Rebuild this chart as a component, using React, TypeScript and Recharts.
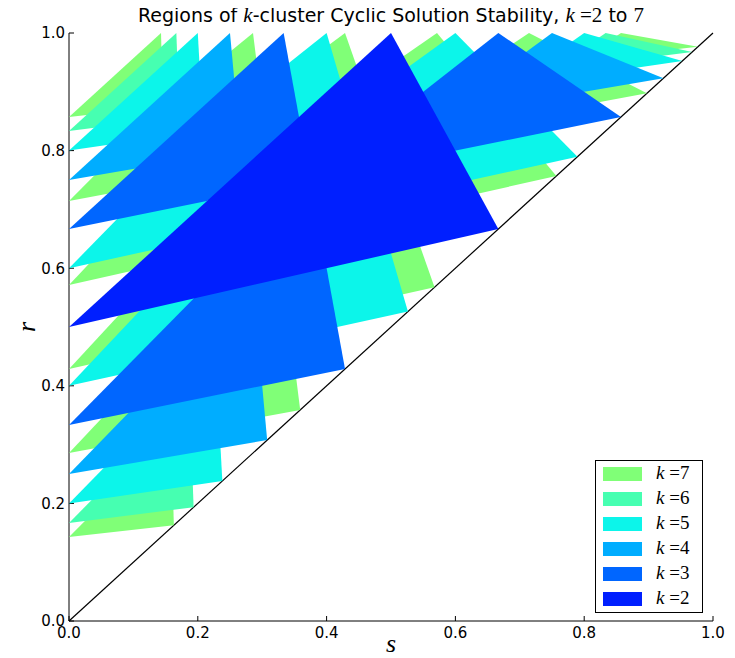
import React from 'react'
import {
  ComposedChart,
  Scatter,
  XAxis,
  YAxis,
  ReferenceLine,
  Legend,
  Label,
} from 'recharts'

// k values, drawn from the highest k (bottom) to k=2 (top)
const K_VALUES = [7, 6, 5, 4, 3, 2]

const K_COLORS: Record<number, string> = {
  7: '#80ff77',
  6: '#46ffb1',
  5: '#0cf5ea',
  4: '#00adff',
  3: '#0066ff',
  2: '#001fff',
}

// stable regions as polygons of [s, r] vertices
const REGIONS_K2 = [[[0, 0.5], [0.5, 1], [0.6667, 0.6667]]]

const REGIONS_K3 = [
  [[0, 0.3333], [0.375, 0.75], [0.4286, 0.4286]],
  [[0, 0.6667], [0.3333, 1], [0.375, 0.75]],
  [[0.375, 0.75], [0.6667, 1], [0.8571, 0.8571]],
]

const REGIONS_K4 = [
  [[0, 0.25], [0.2857, 0.5714], [0.3077, 0.3077]],
  [[0, 0.75], [0.25, 1], [0.2667, 0.8]],
  [[0.5714, 0.8571], [0.75, 1], [0.9231, 0.9231]],
]

const REGIONS_K5 = [
  [[0, 0.2], [0.2273, 0.4545], [0.2381, 0.2381]],
  [[0, 0.4], [0.2174, 0.6522], [0.2273, 0.4545]],
  [[0.2273, 0.4545], [0.4762, 0.7143], [0.5263, 0.5263]],
  [[0, 0.6], [0.2083, 0.8333], [0.2174, 0.6522]],
  [[0.2174, 0.6522], [0.4348, 0.8696], [0.4762, 0.7143]],
  [[0.4762, 0.7143], [0.6818, 0.9091], [0.7895, 0.7895]],
  [[0, 0.8], [0.2, 1], [0.2083, 0.8333]],
  [[0.2083, 0.8333], [0.4, 1], [0.4348, 0.8696]],
  [[0.4348, 0.8696], [0.6, 1], [0.6818, 0.9091]],
  [[0.6818, 0.9091], [0.8, 1], [0.9524, 0.9524]],
]

const REGIONS_K6 = [
  [[0, 0.1667], [0.1875, 0.375], [0.1935, 0.1935]],
  [[0, 0.8333], [0.1667, 1], [0.1714, 0.8571]],
  [[0.75, 0.9375], [0.8333, 1], [0.9677, 0.9677]],
]

const REGIONS_K7 = [
  [[0, 0.1429], [0.1591, 0.3182], [0.1628, 0.1628]],
  [[0, 0.2857], [0.1556, 0.4667], [0.1591, 0.3182]],
  [[0.1591, 0.3182], [0.3415, 0.5122], [0.359, 0.359]],
  [[0, 0.4286], [0.1522, 0.6087], [0.1556, 0.4667]],
  [[0.1556, 0.4667], [0.3256, 0.6512], [0.3415, 0.5122]],
  [[0.3415, 0.5122], [0.525, 0.7], [0.5676, 0.5676]],
  [[0, 0.5714], [0.1489, 0.7447], [0.1522, 0.6087]],
  [[0.1522, 0.6087], [0.3111, 0.7778], [0.3256, 0.6512]],
  [[0.3256, 0.6512], [0.4884, 0.814], [0.525, 0.7]],
  [[0.525, 0.7], [0.6829, 0.8537], [0.7568, 0.7568]],
  [[0, 0.7143], [0.1458, 0.875], [0.1489, 0.7447]],
  [[0.1489, 0.7447], [0.2979, 0.8936], [0.3111, 0.7778]],
  [[0.3111, 0.7778], [0.4565, 0.913], [0.4884, 0.814]],
  [[0.4884, 0.814], [0.6222, 0.9333], [0.6829, 0.8537]],
  [[0.6829, 0.8537], [0.7955, 0.9545], [0.8974, 0.8974]],
  [[0, 0.8571], [0.1429, 1], [0.1458, 0.875]],
  [[0.1458, 0.875], [0.2857, 1], [0.2979, 0.8936]],
  [[0.2979, 0.8936], [0.4286, 1], [0.4565, 0.913]],
  [[0.4565, 0.913], [0.5714, 1], [0.6222, 0.9333]],
  [[0.6222, 0.9333], [0.7143, 1], [0.7955, 0.9545]],
  [[0.7955, 0.9545], [0.8571, 1], [0.9767, 0.9767]],
]

const REGIONS: Record<number, number[][][]> = {
  7: REGIONS_K7,
  6: REGIONS_K6,
  5: REGIONS_K5,
  4: REGIONS_K4,
  3: REGIONS_K3,
  2: REGIONS_K2,
}

const TICKS = [0, 0.2, 0.4, 0.6, 0.8, 1]

const MATH_FONT = 'Liberation Serif'
const TEXT_FONT = 'DejaVu Sans'

// chart starts a little above the page margin so the title has room
const SHIFT = 6

const tickFmt = (v: number) => v.toFixed(1)
const noPoint = () => <g />
const noTick = () => <g />

const polygonLine = (color: string) => (props: any) => {
  const pts = (props.points || []) as { x: number; y: number }[]
  return (
    <polygon
      points={pts.map((p) => `${p.x},${p.y}`).join(' ')}
      fill={color}
      stroke="none"
    />
  )
}

// title sits above the plot; it hangs off the bottom axis label layer
const renderTitle = (props: any) => {
  const vb = props.viewBox || { x: 61, width: 644 }
  return (
    <text
      x={vb.x + vb.width / 2}
      y={14 + SHIFT}
      textAnchor="middle"
      fontFamily={TEXT_FONT}
      fontSize={19}
      fill="#000"
    >
      {'Regions of '}
      <tspan fontFamily={MATH_FONT} fontStyle="italic" fontSize={21}>k</tspan>
      {'-cluster Cyclic Solution Stability, '}
      <tspan fontFamily={MATH_FONT} fontStyle="italic" fontSize={21}>k</tspan>
      <tspan fontFamily={MATH_FONT} fontSize={21}>{' =2'}</tspan>
      {' to '}
      <tspan fontFamily={MATH_FONT} fontSize={21}>7</tspan>
    </text>
  )
}

const renderXLabel = (props: any) => {
  const vb = props.viewBox || { x: 61, y: 619, width: 644 }
  return (
    <text
      x={vb.x + vb.width / 2}
      y={vb.y + 31}
      textAnchor="middle"
      fontFamily={MATH_FONT}
      fontStyle="italic"
      fontSize={26}
      fill="#000"
    >
      s
    </text>
  )
}

const renderYLabel = () => (
  <text
    x={27}
    y={319 + SHIFT}
    textAnchor="middle"
    transform={`rotate(-90, 27, ${319 + SHIFT})`}
    fontFamily={MATH_FONT}
    fontStyle="italic"
    fontSize={26}
    fill="#000"
  >
    r
  </text>
)

const renderLegend = () => (
  <div
    style={{
      position: 'relative',
      width: 108,
      height: 153,
      boxSizing: 'border-box',
      border: '1px solid #000',
      background: '#fff',
    }}
  >
    {K_VALUES.map((k, i) => (
      <div key={k}>
        <div
          style={{
            position: 'absolute',
            left: 7,
            top: 6 + i * 25,
            width: 39,
            height: 14,
            background: K_COLORS[k],
          }}
        />
        <div
          style={{
            position: 'absolute',
            left: 60,
            top: 1 + i * 25,
            height: 22,
            lineHeight: '22px',
            fontFamily: MATH_FONT,
            fontSize: 19,
            color: '#000',
            whiteSpace: 'nowrap',
          }}
        >
          <span style={{ fontStyle: 'italic' }}>k</span>
          {' =' + k}
        </div>
      </div>
    ))}
  </div>
)

export default function App() {
  return (
    <div style={{ width: 727, height: 656, marginTop: -SHIFT }}>
      <style>{'html,body{overflow:hidden}'}</style>
      <ComposedChart
        width={727}
        height={656}
        margin={{ top: 25 + SHIFT, right: 22, bottom: 0, left: 0 }}
      >
        <XAxis
          dataKey="s"
          type="number"
          domain={[0, 1]}
          ticks={TICKS}
          interval={0}
          tickFormatter={tickFmt}
          height={37}
          tickSize={-5}
          tickMargin={11}
          axisLine={{ stroke: '#000' }}
          tickLine={{ stroke: '#000' }}
          tick={{ fill: '#000', fontSize: 15, fontFamily: TEXT_FONT }}
          allowDataOverflow
        >
          <Label content={renderXLabel} />
          <Label content={renderTitle} />
        </XAxis>
        <XAxis
          xAxisId="top"
          orientation="top"
          type="number"
          domain={[0, 1]}
          ticks={TICKS}
          interval={0}
          height={0}
          tickSize={-5}
          axisLine={{ stroke: '#000' }}
          tickLine={{ stroke: '#000' }}
          tick={noTick}
          allowDataOverflow
        />
        <YAxis
          dataKey="r"
          type="number"
          domain={[0, 1]}
          ticks={TICKS}
          interval={0}
          tickFormatter={tickFmt}
          width={61}
          tickSize={-5}
          tickMargin={9}
          axisLine={{ stroke: '#000' }}
          tickLine={{ stroke: '#000' }}
          tick={{ fill: '#000', fontSize: 15, fontFamily: TEXT_FONT }}
          allowDataOverflow
        >
          <Label content={renderYLabel} />
        </YAxis>
        <YAxis
          yAxisId="right"
          orientation="right"
          type="number"
          domain={[0, 1]}
          ticks={TICKS}
          interval={0}
          width={0}
          tickSize={-5}
          axisLine={{ stroke: '#000' }}
          tickLine={{ stroke: '#000' }}
          tick={noTick}
          allowDataOverflow
        />
        {K_VALUES.flatMap((k) =>
          REGIONS[k].map((poly, i) => (
            <Scatter
              key={`k${k}-${i}`}
              data={poly.map(([s, r]) => ({ s, r }))}
              fill={K_COLORS[k]}
              line={polygonLine(K_COLORS[k])}
              shape={noPoint}
              legendType="none"
              isAnimationActive={false}
            />
          ))
        )}
        <ReferenceLine
          segment={[
            { x: 0, y: 0 },
            { x: 1, y: 1 },
          ]}
          stroke="#000"
          strokeWidth={1.2}
        />
        <Legend
          layout="vertical"
          align="center"
          verticalAlign="middle"
          content={renderLegend}
          wrapperStyle={{ left: 587, top: 452 + SHIFT, width: 108, height: 153 }}
        />
      </ComposedChart>
    </div>
  )
}
